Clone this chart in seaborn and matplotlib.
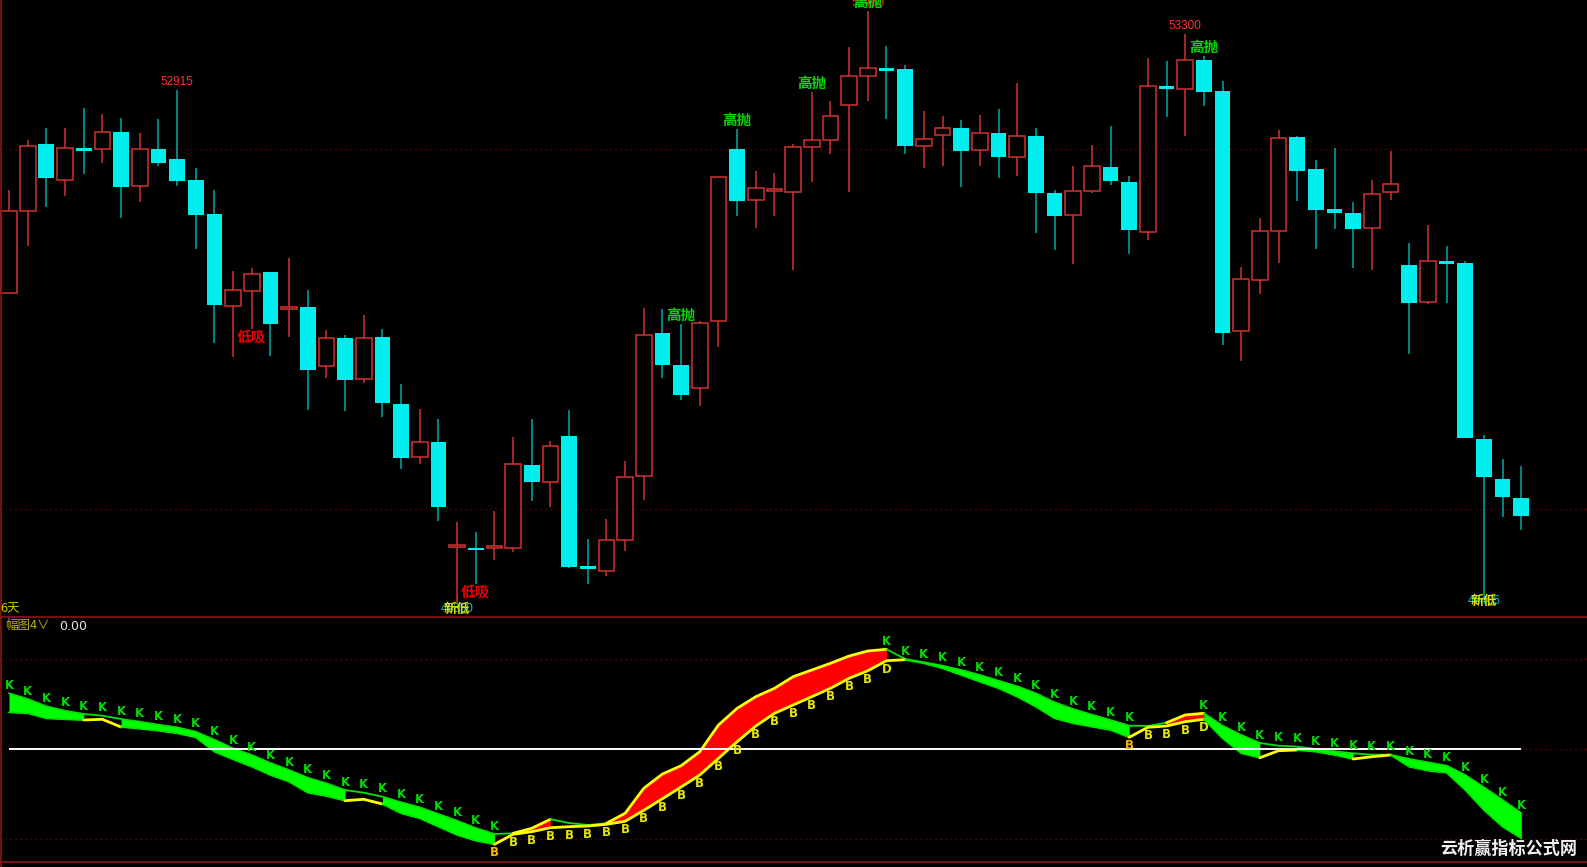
import matplotlib
matplotlib.use("Agg")
import matplotlib.pyplot as plt
import seaborn as sns
import numpy as np
import pandas as pd

# ---------------- price data (daily candles) ----------------
opens = [51499, 52075, 52537, 52286, 52508, 52500, 52621, 52248, 52500, 52432,
         52289, 52048, 51410, 51518, 51645, 51391, 51407, 50991, 51191, 50907,
         51199, 50731, 50363, 50463, 49739, 49733, 49731, 49733, 50309, 50185,
         50507, 49601, 49571, 49782, 50228, 51221, 51004, 50839, 51304, 52500,
         52145, 52210, 52202, 52513, 52562, 52805, 53013, 53065, 53059, 52521,
         52597, 52651, 52494, 52611, 52446, 52594, 52199, 52042, 52208, 52378,
         52275, 51929, 52940, 52921, 53124, 52905, 51240, 51591, 51934, 52586,
         52364, 52083, 52056, 51956, 52202, 51699, 51437, 51721, 51707, 50490,
         50212, 50080]
highs = [52218, 52565, 52651, 52646, 52789, 52746, 52719, 52613, 52711, 52915,
         52370, 52218, 51653, 51675, 51650, 51743, 51524, 51245, 51213, 51348,
         51253, 50866, 50699, 50626, 49909, 49839, 49985, 50501, 50626, 50474,
         50691, 49795, 49931, 50334, 51396, 51388, 51285, 51304, 52310, 52640,
         52348, 52335, 52537, 52897, 52835, 53213, 53460, 53216, 53083, 52770,
         52735, 52702, 52738, 52781, 52962, 52648, 52221, 52383, 52529, 52664,
         52313, 53132, 53113, 53300, 53146, 52978, 51680, 52021, 52635, 52592,
         52429, 52510, 52137, 52286, 52491, 51848, 51975, 51829, 51721, 50512,
         50347, 50298]
lows = [51499, 51829, 52099, 52175, 52327, 52405, 52026, 52137, 52381, 52243,
        51807, 51153, 51056, 51253, 51061, 51196, 50688, 50910, 50685, 50875,
        50637, 50280, 50312, 49920, 49350, 49482, 49644, 49704, 50055, 50017,
        49590, 49477, 49533, 49712, 50063, 50910, 50761, 50715, 51123, 52034,
        51953, 52034, 51659, 52272, 52470, 52205, 52835, 52708, 52470, 52370,
        52381, 52235, 52386, 52302, 52316, 51918, 51802, 51705, 52200, 52253,
        51775, 51870, 52727, 52594, 52802, 51142, 51031, 51494, 51710, 52140,
        51807, 51945, 51672, 51659, 52145, 51080, 51423, 51434, 50493, 49405,
        49947, 49855]
closes = [52070, 52521, 52300, 52508, 52500, 52624, 52240, 52500, 52402, 52283,
          52043, 51418, 51521, 51634, 51288, 51396, 50969, 51188, 50899, 51188,
          50739, 50353, 50463, 50015, 49742, 49728, 49742, 50312, 50185, 50436,
          49598, 49585, 49782, 50225, 51212, 51002, 50796, 51291, 52305, 52140,
          52229, 52216, 52513, 52562, 52735, 53013, 53065, 53051, 52521, 52570,
          52651, 52491, 52611, 52448, 52594, 52194, 52037, 52208, 52383, 52278,
          51940, 52940, 52927, 53119, 52897, 51223, 51596, 51932, 52581, 52351,
          52078, 52061, 51945, 52191, 52261, 51434, 51721, 51705, 50493, 50226,
          50085, 49950]
price_grid = [52500, 50000]

# signal markers (0-based candle index)
high_marks = [9, 46, 63]          # red high value
sell_marks = [36, 39, 43, 46, 64]  # 高抛
buy_marks = [13, 25]              # 低吸
newlow_marks = [24, 79]           # 新低 + low value

# ---------------- indicator data ----------------
ind_upper = [55.7, 50.0, 42.7, 38.3, 35.0, 33.3, 30.0, 27.3, 24.3, 21.7,
             17.3, 9.3, 0.7, -6.0, -14.0, -21.0, -28.7, -34.3, -41.0, -43.7,
             -47.7, -53.3, -58.3, -65.0, -71.7, -79.0, -85.0, -84.3, -79.3, -70.3,
             -74.0, -76.0, -74.3, -64.3, -39.3, -25.0, -16.7, -2.7, 24.0, 40.7,
             52.3, 60.7, 72.3, 79.0, 85.7, 93.0, 98.0, 99.7, 90.0, 86.7,
             83.3, 79.0, 74.0, 68.3, 62.7, 55.7, 46.7, 40.0, 34.3, 29.0,
             23.3, 23.0, 26.3, 34.0, 35.7, 23.3, 14.0, 6.0, 3.3, 2.3,
             0.0, -2.3, -4.3, -5.7, -5.7, -10.0, -13.3, -16.7, -26.0, -38.3,
             -51.0, -64.0]
ind_lower = [36.7, 35.7, 30.7, 29.7, 29.0, 29.7, 22.0, 20.3, 18.3, 15.7,
             11.7, -2.7, -10.3, -17.7, -26.0, -32.7, -43.7, -47.0, -51.7, -50.3,
             -55.0, -64.3, -69.3, -77.7, -86.0, -91.7, -95.3, -85.3, -82.7, -78.7,
             -77.7, -77.0, -75.3, -72.3, -61.3, -49.7, -38.0, -26.0, -9.3, 7.3,
             23.0, 35.7, 44.0, 52.3, 60.7, 70.7, 78.3, 88.3, 89.3, 85.7,
             80.7, 74.0, 67.3, 60.7, 52.3, 42.3, 30.7, 25.7, 22.3, 19.0,
             11.7, 21.7, 23.0, 27.3, 29.7, 10.7, -4.3, -8.7, -1.7, -1.0,
             -2.7, -6.0, -10.0, -7.7, -6.0, -17.7, -21.7, -23.7, -41.0, -61.0,
             -77.7, -89.3]
ind_grid = [90, -90]
# phase of each segment between consecutive candles: G=falling(green), R=rising(red), N=no fill
phase_runs = [('G', 4), ('N', 2), ('G', 12), ('N', 2), ('G', 6), ('N', 1), ('R', 2),
              ('N', 3), ('R', 15), ('N', 1), ('G', 12), ('N', 2), ('R', 2), ('G', 3),
              ('N', 2), ('G', 3), ('N', 2), ('G', 7)]
label_runs = [('K', 26), ('KB', 1), ('B', 20), ('KD', 1), ('K', 12), ('KB', 1),
              ('B', 3), ('KD', 1), ('K', 17)]

# ---------------- styling ----------------
sns.set_theme(style="dark", rc={"axes.facecolor": "black", "figure.facecolor": "black"})
plt.rcParams['font.family'] = ['DejaVu Sans', 'Noto Sans CJK SC']
CJK = ['Noto Sans CJK SC', 'DejaVu Sans']

W, H = 1587, 867
fig = plt.figure(figsize=(W / 100, H / 100), dpi=100)
fig.patch.set_facecolor('black')

def fy(y):
    return 1 - y / H

SPLIT, BOTTOM = 617, 862
ax1 = fig.add_axes([0, fy(SPLIT), 1, SPLIT / H])
ax2 = fig.add_axes([0, fy(BOTTOM), 1, (BOTTOM - SPLIT) / H])
for ax in (ax1, ax2):
    ax.set_facecolor('black')
    ax.set_xlim(-0.482, 84.52)
    for s in ax.spines.values():
        s.set_visible(False)
    ax.set_xticks([])
    ax.set_yticks([])
    ax.grid(False)
ax1.set_ylim(49250, 53538)
ax2.set_ylim(-113, 132)

GRID_COL = '#800000'
for g in price_grid:
    ax1.axhline(g, color=GRID_COL, lw=0.9, ls=(0, (1, 3)), zorder=0)
for g in ind_grid + [0]:
    ax2.axhline(g, color=GRID_COL, lw=0.9, ls=(0, (1, 3)), zorder=0)

# ---------------- candles ----------------
df = pd.DataFrame(dict(o=opens, h=highs, l=lows, c=closes))
n = len(df)
idx = np.arange(n)
UP_COL = '#d23232'
DN_COL = '#00eeee'
DN_WICK = '#00aaaa'
bw = 0.84
for i, r in df.iterrows():
    if r.c > r.o:
        ax1.vlines(i, r.l, r.h, color=UP_COL, lw=1.1, zorder=2)
        hgt = max(r.c - r.o, 12)
        ax1.bar(i, hgt, bw, bottom=r.o, facecolor='black', edgecolor=UP_COL,
                linewidth=1.1, zorder=3)
    else:
        ax1.vlines(i, r.l, r.h, color=DN_WICK, lw=1.1, zorder=2)
        hgt = max(r.o - r.c, 18)
        ax1.bar(i, hgt, bw, bottom=r.o - hgt, color=DN_COL, linewidth=0, zorder=3)

def note(ax, i, y, text, color, dy, size, family=None, weight='normal'):
    kw = {}
    if family:
        kw['family'] = family
    ax.annotate(text, (i, y), xytext=(0, dy), textcoords='offset points',
                ha='center', va='center', color=color, fontsize=size,
                fontweight=weight, zorder=6, **kw)

for i in high_marks:
    note(ax1, i, highs[i], str(highs[i]), '#ff3030', 5.8, 8.5, ['Liberation Sans'])
for i in sell_marks:
    note(ax1, i, highs[i], '高抛', '#00d800', 7.0, 10.5, CJK, 'bold')
for i in buy_marks:
    note(ax1, i, lows[i], '低吸', '#e80000', -5.5, 10.5, CJK, 'bold')
for i in newlow_marks:
    note(ax1, i, lows[i], str(lows[i]), '#00c8d8', -4.5, 8.5, ['Liberation Sans'])
    note(ax1, i, lows[i], '新低', '#e0e000', -4.5, 9.5, CJK, 'bold')

# ---------------- indicator ----------------
up_v = np.array(ind_upper)
lo_v = np.array(ind_lower)
phase = ''.join(p * k for p, k in phase_runs)
labels = []
for code, k in label_runs:
    labels += [code] * k

GREEN = '#00ff00'
RED = '#ff0000'
YEL = '#ffff00'
LINE_G = '#00e600'

j = 0
while j < len(phase):
    k = j
    while k + 1 < len(phase) and phase[k + 1] == phase[j]:
        k += 1
    sl = slice(j, k + 2)
    if phase[j] == 'G':
        ax2.fill_between(idx[sl], up_v[sl], lo_v[sl], color=GREEN, lw=0, zorder=2)
    elif phase[j] == 'R':
        ax2.fill_between(idx[sl], up_v[sl], lo_v[sl], color=RED, lw=0, zorder=2)
    j = k + 1

def draw_line(vals, colors, widths):
    j = 0
    while j < len(colors):
        k = j
        while k + 1 < len(colors) and colors[k + 1] == colors[j]:
            k += 1
        xs = idx[j:k + 2]
        ys = vals[j:k + 2]
        sns.lineplot(x=xs, y=ys, color=colors[j], lw=widths[j], ax=ax2,
                     legend=False, sort=False, estimator=None, zorder=3)
        j = k + 1

up_cols = [YEL if p == 'R' else LINE_G for p in phase]
up_w = [2.0 if p == 'R' else 1.3 for p in phase]
lo_cols = [LINE_G if p == 'G' else YEL for p in phase]
lo_w = [1.3 if p == 'G' else 2.0 for p in phase]
draw_line(up_v, up_cols, up_w)
draw_line(lo_v, lo_cols, lo_w)

ax2.hlines(0, 0, n - 1, color='white', lw=1.4, zorder=4)

for i, code in enumerate(labels):
    if 'K' in code:
        note(ax2, i, up_v[i], 'K', '#00dd00', 5.6, 8.5, None, 'bold')
    if code == 'B':
        note(ax2, i, lo_v[i], 'B', '#e6e600', -6.2, 8.5, None, 'bold')
    elif code == 'KB':
        note(ax2, i, lo_v[i], 'B', '#ffb400', -6.2, 8.5, None, 'bold')
    elif code == 'KD':
        note(ax2, i, lo_v[i], 'D', '#e6e600', -6.2, 8.5, None, 'bold')

# ---------------- frame lines & header text ----------------
FRAME = '#8c1414'
fig.add_artist(plt.Line2D([0, 1], [fy(SPLIT), fy(SPLIT)], color=FRAME, lw=1.2))
fig.add_artist(plt.Line2D([0, 1], [fy(BOTTOM), fy(BOTTOM)], color=FRAME, lw=1.2))
fig.add_artist(plt.Line2D([0.5 / W, 0.5 / W], [0, 1], color=FRAME, lw=1.2))

fig.text(0 / W, fy(609), '6天', color='#c8c800', fontsize=9, family=CJK,
         ha='left', va='center')
fig.text(5 / W, fy(626), '幅图4∨', color='#b8b000', fontsize=9, family=CJK,
         ha='left', va='center')
fig.text(59 / W, fy(626), '0.00', color='#e6e6e6', fontsize=9,
         ha='left', va='center')
fig.text(1577 / W, fy(849), '云析赢指标公式网', color='#f0f0f0', fontsize=12.3,
         family=CJK, fontweight='bold', ha='right', va='center')

fig.savefig('out.png', dpi=100, facecolor='black')
